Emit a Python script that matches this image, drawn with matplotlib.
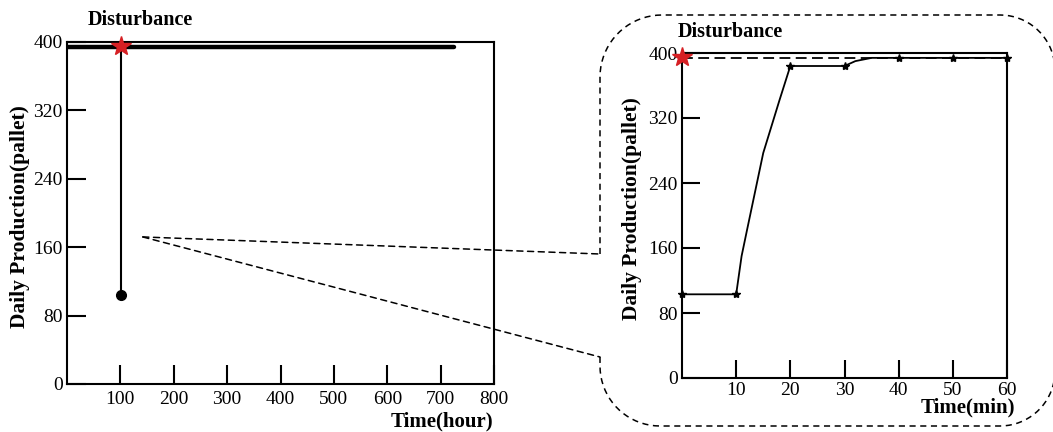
import numpy as np
import matplotlib
matplotlib.use("Agg")
import matplotlib.pyplot as plt
from matplotlib.patches import ConnectionPatch
from matplotlib.lines import Line2D

plt.rcParams['font.family'] = ['Liberation Serif', 'DejaVu Serif']

# --- data ---
# left panel (hours)
base_hours = [0, 725]
base_level = [394, 394]
disturb_hour = 102
drop_level = [394, 104]

# right panel (minutes)
minutes = [0, 10, 11, 12, 15, 18, 20, 30, 32, 35, 40, 50, 60]
recovery = [103, 103, 150, 182, 277, 342, 384, 384, 390, 394, 394, 394, 394]
marked = [0, 1, 6, 7, 10, 11, 12]
target_minutes = [0, 60]
target_level = [394, 394]

left_xticks = [100, 200, 300, 400, 500, 600, 700, 800]
right_xticks = [10, 20, 30, 40, 50, 60]
yticks = [0, 80, 160, 240, 320, 400]

W, H = 1053, 432
fig = plt.figure(figsize=(W / 100, H / 100), dpi=100)

def px(x0, y0, x1, y1):
    return [x0 / W, 1 - y1 / H, (x1 - x0) / W, (y1 - y0) / H]

ax1 = fig.add_axes(px(67, 42, 494, 384))
ax2 = fig.add_axes(px(682, 53, 1007, 378))

for ax in (ax1, ax2):
    for s in ax.spines.values():
        s.set_linewidth(1.5)
    ax.tick_params(direction='in', length=14, width=1.5, labelsize=14, colors='black')
    ax.set_yticks(yticks)
    ax.set_ylim(0, 400)

# left panel
ax1.plot(base_hours, base_level, color='black', lw=3.2, solid_capstyle='round', zorder=3)
ax1.plot([disturb_hour, disturb_hour], drop_level, color='black', lw=1.5, zorder=3)
ax1.plot(disturb_hour, drop_level[1], 'o', color='black', ms=7, zorder=4)
ax1.plot(disturb_hour, 395, '*', color='#d62024', ms=15, zorder=5, clip_on=False)
ax1.set_xlim(0, 800)
ax1.set_xticks(left_xticks)
ax1.tick_params(axis='x', pad=5)
ax1.tick_params(axis='y', pad=3)
ax1.set_ylabel('Daily Production(pallet)', fontsize=15.5, fontweight='bold')
ax1.yaxis.set_label_coords(-0.087, 0.49)
ax1.text(0.998, -0.111, 'Time(hour)', transform=ax1.transAxes, ha='right', va='center',
         fontsize=15, fontweight='bold')
ax1.text(0.171, 1.064, 'Disturbance', transform=ax1.transAxes, ha='center', va='center',
         fontsize=14.5, fontweight='bold')

# right panel
ax2.plot(target_minutes, target_level, color='black', lw=1.3, dashes=(6, 3), zorder=3, clip_on=False)
ax2.plot(minutes, recovery, color='black', lw=1.3, marker='*', ms=6, markevery=marked,
         zorder=4, clip_on=False)
ax2.plot(0, 395, '*', color='#d62024', ms=15, zorder=5, clip_on=False)
ax2.set_xlim(0, 60)
ax2.set_xticks(right_xticks)
ax2.tick_params(axis='x', pad=3, length=13)
ax2.tick_params(axis='y', pad=3, length=13)
ax2.set_ylabel('Daily Production(pallet)', fontsize=15.5, fontweight='bold')
ax2.yaxis.set_label_coords(-0.123, 0.52)
ax2.text(1.025, -0.092, 'Time(min)', transform=ax2.transAxes, ha='right', va='center',
         fontsize=15, fontweight='bold')
ax2.text(0.148, 1.065, 'Disturbance', transform=ax2.transAxes, ha='center', va='center',
         fontsize=14.5, fontweight='bold')

# rounded dashed frame around the zoomed panel (pixel units)
def arc(cx, cy, r, a0, a1, n=20):
    t = np.radians(np.linspace(a0, a1, n))
    return list(zip(cx + r * np.cos(t), cy - r * np.sin(t)))

pts = [(600, 254)]
pts += arc(662, 77, 62, 180, 90)
pts += arc(1000, 70, 55, 90, 0)
pts += arc(1000, 371, 55, 0, -90)
pts += arc(660, 366, 60, -90, -180)
pts += [(600, 357)]
fx = [p[0] / W for p in pts]
fy = [1 - p[1] / H for p in pts]
fig.add_artist(Line2D(fx, fy, transform=fig.transFigure, color='black', lw=1.1,
                      dashes=(4, 3)))

# zoom connectors from the disturbance region to the frame
for yend in (254, 357):
    con = ConnectionPatch(xyA=(142, 172), coordsA=ax1.transData,
                          xyB=(600 / W, 1 - yend / H), coordsB=fig.transFigure,
                          color='black', lw=1.1, linestyle=(0, (4, 3)))
    fig.add_artist(con)

fig.savefig('out.png', dpi=100)
